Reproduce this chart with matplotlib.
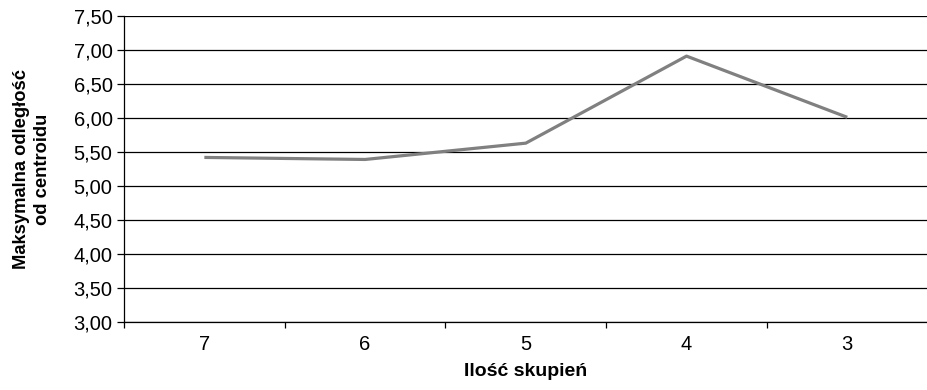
import numpy as np
import matplotlib.pyplot as plt
from matplotlib.ticker import FixedLocator, FuncFormatter

clusters = ['7', '6', '5', '4', '3']
max_dist = [5.42, 5.39, 5.63, 6.91, 6.01]
y_ticks = [3.0, 3.5, 4.0, 4.5, 5.0, 5.5, 6.0, 6.5, 7.0, 7.5]

plt.rcParams['font.family'] = ['Liberation Sans', 'DejaVu Sans']

fig = plt.figure(figsize=(9.28, 3.9), dpi=100)
ax = fig.add_axes([0.1336, 0.1744, 0.866, 0.7846])

x = np.arange(len(clusters))
ax.plot(x, max_dist, color='#808080', linewidth=2.3, solid_capstyle='butt')

ax.set_xlim(-0.5, len(clusters) - 0.5)
ax.set_ylim(y_ticks[0], y_ticks[-1])

# horizontal gridlines
ax.set_yticks(y_ticks)
ax.yaxis.set_major_formatter(FuncFormatter(lambda v, _: f'{v:.2f}'.replace('.', ',')))
ax.grid(axis='y', color='black', linewidth=0.9)
ax.set_axisbelow(True)

# category boundaries get the tick marks, centres get the labels
ax.xaxis.set_major_locator(FixedLocator(np.arange(len(clusters) + 1) - 0.5))
ax.xaxis.set_major_formatter(FuncFormatter(lambda v, _: ''))
ax.xaxis.set_minor_locator(FixedLocator(x))
ax.set_xticklabels(clusters, minor=True)
ax.tick_params(axis='x', which='major', length=4.5, width=0.9, color='black', direction='out')
ax.tick_params(axis='x', which='minor', length=0, pad=9.5, labelsize=14.5)
ax.tick_params(axis='y', length=4.7, width=0.9, direction='out', labelsize=14.5, pad=3.5)

for side in ['top', 'right']:
    ax.spines[side].set_visible(False)
for side in ['left', 'bottom']:
    ax.spines[side].set_color('black')
    ax.spines[side].set_linewidth(0.9)

ax.set_xlabel('Ilość skupień', fontsize=14, fontweight='bold', labelpad=6)
ax.set_ylabel('Maksymalna odległość\nod centroidu', fontsize=13.2, fontweight='bold',
              labelpad=16, linespacing=1.35)

fig.savefig('out.png', dpi=100)
